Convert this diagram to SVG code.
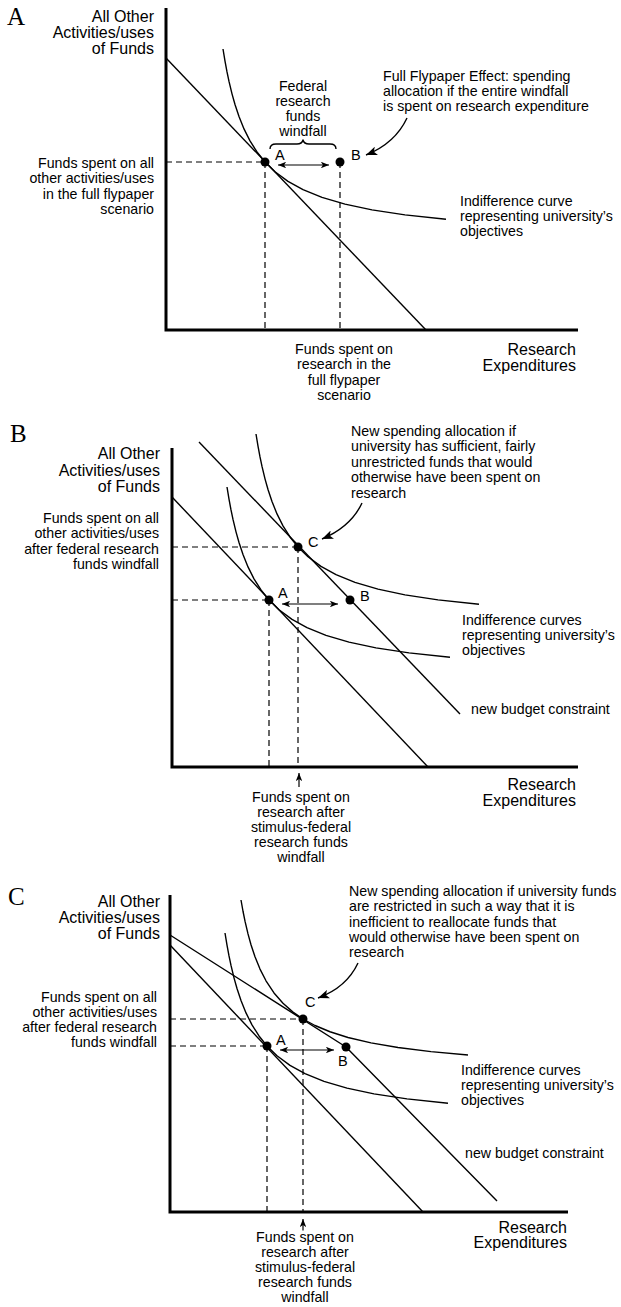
<svg xmlns="http://www.w3.org/2000/svg" xmlns:xlink="http://www.w3.org/1999/xlink" width="621" height="1307" viewBox="0 0 621 1307">
<style>
text{font-family:"Liberation Sans",Arial,sans-serif;font-size:14.2px;fill:#000}
.ax{font-size:16px}
.pl{font-family:"Liberation Serif","Times New Roman",serif;font-size:25px}
.pt{font-size:14.5px}
.r{text-anchor:end}
.m{text-anchor:middle}
.axis{stroke:#000;stroke-width:3;fill:none}
.ln{stroke:#000;stroke-width:1.4;fill:none;stroke-linejoin:round}
.dash{stroke:#000;stroke-width:1.2;fill:none;stroke-dasharray:6 4}
.dot{fill:#000}
.arr{stroke:#000;stroke-width:1.2;fill:none;marker-start:url(#ah);marker-end:url(#ah)}
.call{stroke:#000;stroke-width:1.4;fill:none;marker-end:url(#ch)}
.up{stroke:#000;stroke-width:1.2;fill:none;marker-end:url(#ah)}
</style>
<defs>
<marker id="ah" viewBox="0 0 10 8" refX="10" refY="4" markerWidth="9" markerHeight="6.5" markerUnits="userSpaceOnUse" orient="auto-start-reverse">
<path d="M0,0 L10,4 L0,8 L2.5,4 z" fill="#000"/>
</marker>
<marker id="ch" viewBox="0 0 10 8" refX="10" refY="4" markerWidth="12" markerHeight="9" markerUnits="userSpaceOnUse" orient="auto">
<path d="M0,0 L10,4 L0,8 L2.5,4 z" fill="#000"/>
</marker>
<path id="ic" class="ln" d="M-42,-113 L-40,-100.83 L-38,-90.1 L-36,-80.58 L-33,-68.14 L-30,-57.49 L-26,-45.46 L-21,-33.1 L-15,-21.14 L-8,-10.04 L0,0 L10,9.78 L23,19.4 L38,27.68 L57,35.39 L80,42.13 L107,47.84 L140,52.84 L181,57.2"/>
<path id="ic2" class="ln" d="M-62,-119 L-60,-107.75 L-58,-97.87 L-55,-85.09 L-52,-74.28 L-48,-62.2 L-43,-49.93 L-37,-38.2 L-29,-26.08 L-20,-15.71 L-10,-6.89 L0,0 L12,6.5 L27,12.77 L45,18.47 L68,23.87 L95,28.51 L128,32.63 L165,35.98"/>
</defs>

<!-- Panel A -->
<g id="panelA">
<text class="pl" x="7" y="25">A</text>
<g id="A-axes">
<path class="axis" d="M166,8 V331.5 M164.5,330 H578"/>
<text class="ax r" x="154" y="22">All Other</text>
<text class="ax r" x="154" y="38">Activities/uses</text>
<text class="ax r" x="154" y="54">of Funds</text>
<text class="ax r" x="576" y="355">Research</text>
<text class="ax r" x="576" y="371">Expenditures</text>
</g>
<g id="A-budget"><path class="ln" d="M166,58 L426,330"/></g>
<g id="A-indiff"><use xlink:href="#ic" transform="translate(265,162)"/></g>
<g id="A-pointA"><circle class="dot" cx="265" cy="162" r="4.5"/><text class="pt" x="275" y="160">A</text></g>
<g id="A-pointB"><circle class="dot" cx="340" cy="162" r="4.5"/><text class="pt" x="351" y="160">B</text></g>
<g id="A-windfall">
<path class="ln" stroke-width="1.2" d="M270,149 Q270,144 276,144 L297,144 Q302,144 303,140 Q304,144 309,144 L330,144 Q336,144 336,149"/>
<text class="m" x="303" y="91">Federal</text>
<text class="m" x="303" y="106">research</text>
<text class="m" x="303" y="121">funds</text>
<text class="m" x="303" y="136">windfall</text>
</g>
<g id="A-flypaper">
<text x="383" y="81">Full Flypaper Effect: spending</text>
<text x="383" y="96">allocation if the entire windfall</text>
<text x="383" y="111">is spent on research expenditure</text>
</g>
<g id="A-fundsOther">
<text class="r" x="154" y="167.5">Funds spent on all</text>
<text class="r" x="154" y="183">other activities/uses</text>
<text class="r" x="154" y="198.5">in the full flypaper</text>
<text class="r" x="154" y="214">scenario</text>
</g>
<g id="A-indiffLabel">
<text x="460" y="206">Indifference curve</text>
<text x="460" y="221">representing university’s</text>
<text x="460" y="236">objectives</text>
</g>
<g id="A-fundsResearch">
<text class="m" x="344" y="354">Funds spent on</text>
<text class="m" x="344" y="369">research in the</text>
<text class="m" x="344" y="385">full flypaper</text>
<text class="m" x="344" y="400">scenario</text>
</g>
</g>

<!-- Panel B -->
<g id="panelB">
<text class="pl" x="10" y="442">B</text>
<g id="B-axes">
<path class="axis" d="M172,448 V768.5 M170.5,767 H578"/>
<text class="ax r" x="160" y="459">All Other</text>
<text class="ax r" x="160" y="476">Activities/uses</text>
<text class="ax r" x="160" y="492">of Funds</text>
<text class="ax r" x="576" y="790">Research</text>
<text class="ax r" x="576" y="806">Expenditures</text>
</g>
<g id="B-budget"><path class="ln" d="M172,497 L428,767"/></g>
<g id="B-newbudget"><path class="ln" d="M199,442 L460,714"/><text x="471" y="714">new budget constraint</text></g>
<g id="B-indiff">
<use xlink:href="#ic" transform="translate(269,600)"/>
<use xlink:href="#ic" transform="translate(298,547)"/>
</g>
<g id="B-pointA"><circle class="dot" cx="269" cy="600" r="4.5"/><text class="pt" x="278" y="598">A</text></g>
<g id="B-pointB"><circle class="dot" cx="350" cy="600" r="4.5"/><text class="pt" x="360" y="601">B</text></g>
<g id="B-pointC"><circle class="dot" cx="298" cy="547" r="4.5"/><text class="pt" x="308" y="547">C</text></g>
<g id="B-fundsOther">
<text class="r" x="159" y="523">Funds spent on all</text>
<text class="r" x="159" y="538">other activities/uses</text>
<text class="r" x="159" y="553.5">after federal research</text>
<text class="r" x="159" y="568.5">funds windfall</text>
</g>
<g id="B-newAlloc">
<text x="351" y="435.5">New spending allocation if</text>
<text x="351" y="451">university has sufficient, fairly</text>
<text x="351" y="466.5">unrestricted funds that would</text>
<text x="351" y="482">otherwise have been spent on</text>
<text x="351" y="497.5">research</text>
</g>
<g id="B-indiffLabel">
<text x="462" y="625">Indifference curves</text>
<text x="462" y="640">representing university’s</text>
<text x="462" y="655">objectives</text>
</g>
<g id="B-fundsResearch">
<text class="m" x="301" y="802">Funds spent on</text>
<text class="m" x="301" y="817">research after</text>
<text class="m" x="301" y="832">stimulus-federal</text>
<text class="m" x="301" y="847">research funds</text>
<text class="m" x="301" y="861.5">windfall</text>
</g>
</g>

<!-- Panel C -->
<g id="panelC">
<text class="pl" x="8" y="905">C</text>
<g id="C-axes">
<path class="axis" d="M170,895 V1213.5 M168.5,1212 H568"/>
<text class="ax r" x="160" y="907">All Other</text>
<text class="ax r" x="160" y="923">Activities/uses</text>
<text class="ax r" x="160" y="939">of Funds</text>
<text class="ax r" x="567" y="1233">Research</text>
<text class="ax r" x="567" y="1248">Expenditures</text>
</g>
<g id="C-budget"><path class="ln" d="M170,945 L423,1212"/></g>
<g id="C-newbudget"><path class="ln" d="M170,935 L346,1047 L497,1201"/><text x="465" y="1158">new budget constraint</text></g>
<g id="C-indiff">
<use xlink:href="#ic" transform="translate(267,1046)"/>
<use xlink:href="#ic2" transform="translate(303,1019)"/>
</g>
<g id="C-pointA"><circle class="dot" cx="267" cy="1046" r="4.5"/><text class="pt" x="276" y="1045">A</text></g>
<g id="C-pointB"><circle class="dot" cx="346" cy="1047" r="4.5"/><text class="pt" x="338" y="1066">B</text></g>
<g id="C-pointC"><circle class="dot" cx="303" cy="1019" r="4.5"/><text class="pt" x="305" y="1007">C</text></g>
<g id="C-fundsOther">
<text class="r" x="157" y="1002">Funds spent on all</text>
<text class="r" x="157" y="1017">other activities/uses</text>
<text class="r" x="157" y="1032">after federal research</text>
<text class="r" x="157" y="1047">funds windfall</text>
</g>
<g id="C-newAlloc">
<text x="349" y="896">New spending allocation if university funds</text>
<text x="349" y="911">are restricted in such a way that it is</text>
<text x="349" y="926.5">inefficient to reallocate funds that</text>
<text x="349" y="942">would otherwise have been spent on</text>
<text x="349" y="957">research</text>
</g>
<g id="C-indiffLabel">
<text x="461" y="1075">Indifference curves</text>
<text x="461" y="1090">representing university’s</text>
<text x="461" y="1105">objectives</text>
</g>
<g id="C-fundsResearch">
<text class="m" x="305" y="1242">Funds spent on</text>
<text class="m" x="305" y="1257">research after</text>
<text class="m" x="305" y="1272">stimulus-federal</text>
<text class="m" x="305" y="1287">research funds</text>
<text class="m" x="305" y="1302">windfall</text>
</g>
</g>

<!-- Connectors -->
<g id="connectors">
<path class="dash" d="M166,162 H265 M265,162 V330 M340,162 V330"/>
<path class="dash" d="M172,547 H298 M172,600 H269 M269,600 V767 M298,547 V767"/>
<path class="dash" d="M170,1019 H303 M170,1046 H267 M267,1046 V1212 M303,1019 V1212"/>
<path class="arr" d="M278,165 H329"/>
<path class="arr" d="M282,604 H338"/>
<path class="arr" d="M280,1050 H334"/>
<path class="call" d="M407,118 C400,133 386,147 366,155"/>
<path class="call" d="M362,503 C355,518 341,531 322,539"/>
<path class="call" d="M358,963 C351,978 337,991 318,998"/>
<path class="up" d="M299,787 V773"/>
<path class="up" d="M303,1230.5 V1219"/>
</g>
</svg>
